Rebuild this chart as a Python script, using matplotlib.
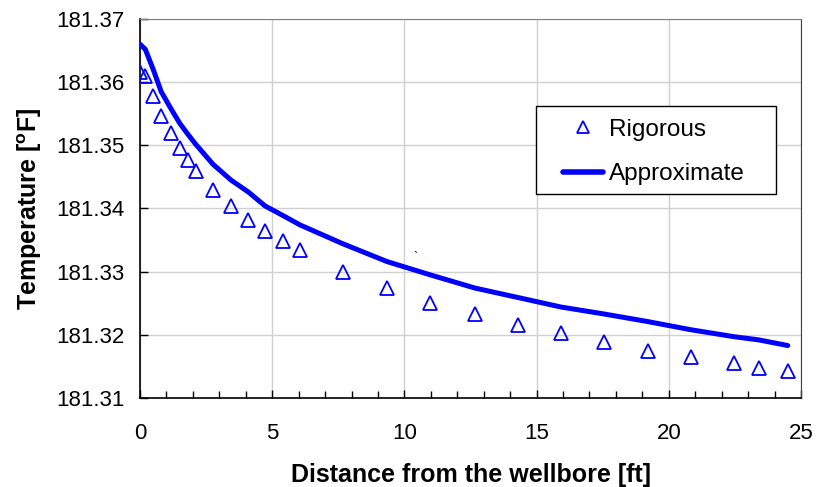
import matplotlib.pyplot as plt
from matplotlib.patches import Rectangle
import numpy as np

plt.rcParams['font.family'] = ['Liberation Sans', 'DejaVu Sans']

# Rigorous solution (triangles)
dist_rig = [0.0, 0.2, 0.5, 0.8, 1.17, 1.5, 1.8, 2.1, 2.76, 3.44, 4.1, 4.73, 5.4, 6.05,
            7.68, 9.34, 10.97, 12.67, 14.3, 15.92, 17.55, 19.2, 20.84, 22.47, 23.4, 24.5]
temp_rig = [181.3616, 181.3610, 181.3578, 181.3547, 181.3520, 181.3496, 181.3477, 181.3460,
            181.3430, 181.3404, 181.3382, 181.3365, 181.3349, 181.3334, 181.3300, 181.3274,
            181.3251, 181.3233, 181.3216, 181.3203, 181.3189, 181.3175, 181.3165, 181.3156,
            181.3148, 181.3143]

# Approximate solution (line)
dist_app = [0.0, 0.2, 0.5, 0.8, 1.17, 1.5, 1.8, 2.1, 2.76, 3.44, 4.1, 4.73, 5.4, 6.05,
            7.68, 9.34, 10.97, 12.67, 14.3, 15.92, 17.55, 19.2, 20.84, 22.47, 23.4, 24.5]
temp_app = [181.3660, 181.3652, 181.3620, 181.3585, 181.3558, 181.3535, 181.3518, 181.3502,
            181.3470, 181.3445, 181.3426, 181.3404, 181.3389, 181.3374, 181.3344, 181.3316,
            181.3295, 181.3274, 181.3259, 181.3244, 181.3233, 181.3221, 181.3208, 181.3197,
            181.3192, 181.3183]

fig = plt.figure(figsize=(8.16, 4.87), dpi=100)
ax = fig.add_axes([0.1716, 0.1828, 0.81, 0.7782])

ax.plot(dist_rig, temp_rig, linestyle='none', marker='^', markersize=10,
        markerfacecolor='none', markeredgecolor='#0000ff', markeredgewidth=1.3,
        label='Rigorous', zorder=3)
ax.plot(dist_app, temp_app, color='#0000ff', linewidth=3.6, label='Approximate',
        solid_capstyle='round', zorder=4)

ax.set_xlim(0, 25)
ax.set_ylim(181.31, 181.37)
ax.set_xticks(np.arange(0, 26, 5))
ax.set_xticks(np.arange(0, 26, 1), minor=True)
ax.set_yticks(np.arange(181.31, 181.3701, 0.01))
ax.yaxis.set_major_formatter(plt.FormatStrFormatter('%.2f'))

ax.grid(True, which='major', color='#d0d0d0', linewidth=1.0)
ax.set_axisbelow(True)

ax.tick_params(axis='both', which='both', direction='in', labelsize=16,
               width=1.0, color='black')
ax.tick_params(axis='both', which='major', length=6)
ax.tick_params(axis='x', which='major', pad=18)
ax.tick_params(axis='y', which='major', pad=11)
ax.tick_params(axis='x', which='minor', length=5)

for side in ['left', 'bottom']:
    ax.spines[side].set_color('black')
    ax.spines[side].set_linewidth(1.2)
ax.spines['top'].set_color('#808080')
ax.spines['right'].set_color('#404040')

ax.set_xlabel('Distance from the wellbore [ft]', fontsize=18, fontweight='bold', labelpad=14)
ax.set_ylabel('Temperature [$\\mathregular{^{o}}$F]', fontsize=18, fontweight='bold', labelpad=9)

# legend box drawn separately so its padding matches the original
ax.add_patch(Rectangle((0.599, 0.538), 0.363, 0.232, transform=ax.transAxes,
                       facecolor='white', edgecolor='black', linewidth=1.0, zorder=5))
leg = ax.legend(loc='upper left', bbox_to_anchor=(0.640, 0.737), fontsize=17.5,
                frameon=False, borderpad=0, handlelength=1.65, handletextpad=0.25,
                labelspacing=0.92, borderaxespad=0)
leg.set_zorder(6)
leg.legend_handles[0].set_markersize(8.5)
leg.legend_handles[1].set_linewidth(4)

# small stray mark present in the original figure
ax.text(10.4, 181.3322, '`', fontsize=9, color='black', ha='center', va='center')

fig.savefig('out.png', dpi=100)
